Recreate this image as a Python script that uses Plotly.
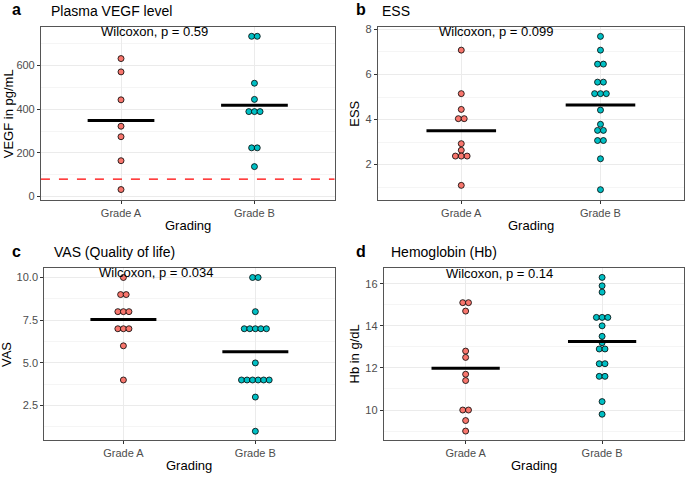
import plotly.graph_objects as go

W, H = 685, 477
FONT = 'Liberation Sans, Arial, sans-serif'

GROUPS = ['Grade A', 'Grade B']
COLORS = ['#F8766D', '#00BFC4']

# a - plasma VEGF (pg/mL)
vegf_a = [632, 571, 443, 322, 274, 164, 32]
vegf_b = [734, 734, 519, 445, 389, 389, 389, 223, 223, 137]
VEGF_CUTOFF = 80

# b - ESS
ess_a = [7.08, 5.15, 4.45, 4.04, 4.04, 2.93, 2.64, 2.38, 2.38, 2.38, 1.08]
ess_b = [7.69, 7.08, 6.46, 6.46, 5.66, 5.66, 5.15, 5.15, 5.15, 4.42, 3.79,
         3.52, 3.52, 3.07, 3.07, 2.26, 0.89]

# c - VAS
vas_a = [10, 9, 9, 8, 8, 8, 7, 7, 7, 6, 4]
vas_b = [10, 10, 8, 7, 7, 7, 7, 7, 5, 4, 4, 4, 4, 4, 4, 3, 1]

# d - hemoglobin (g/dL)
hb_a = [15.1, 15.1, 14.7, 12.8, 12.5, 11.7, 11.4, 10.0, 10.0, 9.5, 9.0]
hb_b = [16.3, 15.9, 15.6, 14.4, 14.4, 14.4, 14.0, 13.5, 13.2, 12.9, 12.9,
        12.2, 12.2, 11.6, 11.6, 10.4, 9.8]

panels = [
    dict(letter='a', title='Plasma VEGF level', ytitle='VEGF in pg/mL',
         data=(vegf_a, vegf_b), p='Wilcoxon, p = 0.59', ptext_y=754,
         yrange=[-15, 778], dtick=200, minor=100, tickfmt='',
         dom_x=(41, 335), dom_y=(24, 199.3), ytitle_x=8, title_x=49, letter_x=17),
    dict(letter='b', title='ESS', ytitle='ESS',
         data=(ess_a, ess_b), p='Wilcoxon, p = 0.099', ptext_y=7.89,
         yrange=[0.44, 8.12], dtick=2, minor=1, tickfmt='',
         dom_x=(378.3, 685), dom_y=(24, 199.3), ytitle_x=355, title_x=381, letter_x=362),
    dict(letter='c', title='VAS (Quality of life)', ytitle='VAS',
         data=(vas_a, vas_b), p='Wilcoxon, p = 0.034', ptext_y=10.27,
         yrange=[0.48, 10.56], dtick=2.5, minor=1.25, tickfmt='.1f',
         dom_x=(44.3, 335), dom_y=(268.3, 442.7), ytitle_x=6, title_x=52, letter_x=17),
    dict(letter='d', title='Hemoglobin (Hb)', ytitle='Hb in g/dL',
         data=(hb_a, hb_b), p='Wilcoxon, p = 0.14', ptext_y=16.5,
         yrange=[8.57, 16.75], dtick=2, minor=1, tickfmt='',
         dom_x=(384.3, 685), dom_y=(268.3, 442.7), ytitle_x=355, title_x=390, letter_x=362),
]


def stack_x(values, center, step=0.042):
    # centre the dots that share a value side by side, like geom_dotplot
    counts = {}
    for v in values:
        counts[v] = counts.get(v, 0) + 1
    seen = {}
    xs = []
    for v in values:
        n = counts[v]
        k = seen.get(v, 0)
        seen[v] = k + 1
        xs.append(center + (k - (n - 1) / 2) * step)
    return xs


fig = go.Figure()
annotations = []
shapes = []

for i, p in enumerate(panels):
    n = '' if i == 0 else str(i + 1)
    xa, ya = 'x' + n, 'y' + n

    for g, (vals, col) in enumerate(zip(p['data'], COLORS)):
        fig.add_trace(go.Scatter(
            x=stack_x(vals, g + 1), y=vals, mode='markers', xaxis=xa, yaxis=ya,
            marker=dict(size=6, color=col, line=dict(color='black', width=0.8)),
            showlegend=False, hoverinfo='y'))
    for g, vals in enumerate(p['data']):
        m = sum(vals) / len(vals)
        fig.add_trace(go.Scatter(
            x=[g + 1 - 0.25, g + 1 + 0.25], y=[m, m], mode='lines',
            xaxis=xa, yaxis=ya, line=dict(color='black', width=3),
            showlegend=False, hoverinfo='skip'))

    x0, x1 = p['dom_x']
    y0, y1 = p['dom_y']
    fig.update_layout({
        'xaxis' + n: dict(
            domain=[x0 / W, min(x1 / W, 1)], range=[0.4, 2.6], anchor=ya,
            tickvals=[1, 2], ticktext=GROUPS, showgrid=True, gridcolor='#EBEBEB',
            gridwidth=1, zeroline=False, showline=True, mirror=True,
            linecolor='#555555', linewidth=1, ticks='outside', ticklen=3,
            tickcolor='#333333', tickfont=dict(size=11, color='#4D4D4D')),
        'yaxis' + n: dict(
            domain=[1 - y1 / H, 1 - y0 / H], range=p['yrange'], anchor=xa,
            dtick=p['dtick'], tick0=0, tickformat=p['tickfmt'], showgrid=True,
            gridcolor='#EBEBEB', gridwidth=1, zeroline=False, showline=True,
            mirror=True, linecolor='#555555', linewidth=1, ticks='outside',
            ticklen=3, tickcolor='#333333',
            tickfont=dict(size=11, color='#4D4D4D'),
            minor=dict(dtick=p['minor'], tick0=0, showgrid=True,
                       gridcolor='#F5F5F5', gridwidth=0.6, ticks='')),
    })

    annotations += [
        dict(text='<b>' + p['letter'] + '</b>', x=p['letter_x'] / W,
             y=1 - (y0 - 17) / H, xref='paper', yref='paper', xanchor='center',
             yanchor='middle', showarrow=False, font=dict(size=16, color='black')),
        dict(text=p['title'], x=p['title_x'] / W, y=1 - (y0 - 16) / H,
             xref='paper', yref='paper', xanchor='left', yanchor='middle',
             showarrow=False, font=dict(size=14, color='black')),
        dict(text=p['ytitle'], x=p['ytitle_x'] / W, y=1 - (y0 + y1) / 2 / H,
             xref='paper', yref='paper', textangle=-90, xanchor='center',
             yanchor='middle', showarrow=False, font=dict(size=13, color='black')),
        dict(text='Grading', x=(x0 + min(x1, W)) / 2 / W, y=1 - (y1 + 26) / H,
             xref='paper', yref='paper', xanchor='center', yanchor='middle',
             showarrow=False, font=dict(size=13, color='black')),
        dict(text=p['p'], x=1.25, y=p['ptext_y'], xref=xa, yref=ya,
             xanchor='center', yanchor='middle', showarrow=False,
             font=dict(size=13, color='black')),
    ]

shapes.append(dict(type='line', xref='x domain', yref='y', x0=0, x1=1,
                   y0=VEGF_CUTOFF, y1=VEGF_CUTOFF,
                   line=dict(color='#FF0000', width=1.3, dash='dash')))

fig.update_layout(
    width=W, height=H, margin=dict(l=0, r=0, t=0, b=0),
    paper_bgcolor='white', plot_bgcolor='white',
    font=dict(family=FONT, color='black'),
    annotations=annotations, shapes=shapes,
)

# drop the browser's default 8px body margin so the figure fills the window
fig.write_html('out.html', config={'displayModeBar': False},
               post_script="document.body.style.margin='0';"
                           "document.body.style.overflow='hidden';")
